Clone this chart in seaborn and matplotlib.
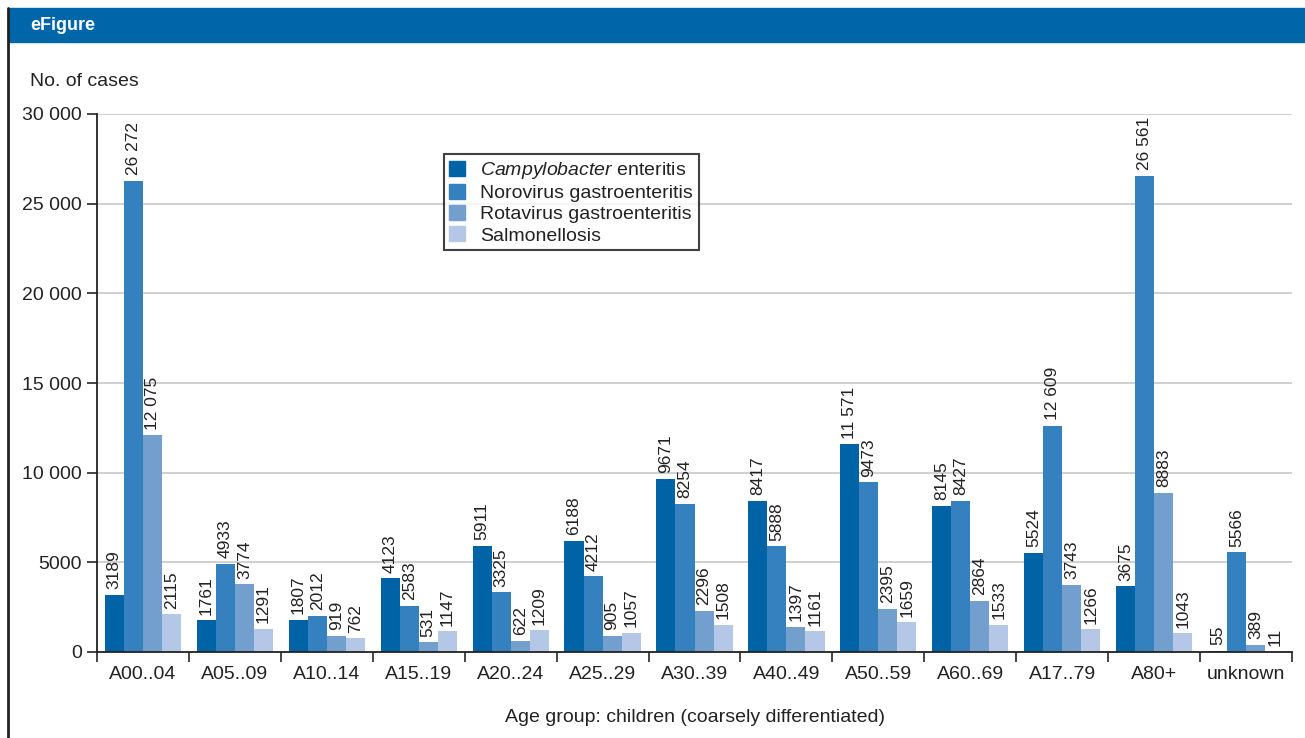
import matplotlib
matplotlib.use("Agg")
import matplotlib.pyplot as plt
import matplotlib.patches as mpatches
from matplotlib.lines import Line2D
import pandas as pd
import seaborn as sns

# Data
age_groups = ["A00..04", "A05..09", "A10..14", "A15..19", "A20..24", "A25..29",
              "A30..39", "A40..49", "A50..59", "A60..69", "A17..79", "A80+", "unknown"]
campylobacter = [3189, 1761, 1807, 4123, 5911, 6188, 9671, 8417, 11571, 8145, 5524, 3675, 55]
norovirus = [26272, 4933, 2012, 2583, 3325, 4212, 8254, 5888, 9473, 8427, 12609, 26561, 5566]
rotavirus = [12075, 3774, 919, 531, 622, 905, 2296, 1397, 2395, 2864, 3743, 8883, 389]
salmonellosis = [2115, 1291, 762, 1147, 1209, 1057, 1508, 1161, 1659, 1533, 1266, 1043, 11]
diseases = ["Campylobacter enteritis", "Norovirus gastroenteritis",
            "Rotavirus gastroenteritis", "Salmonellosis"]
colors = ["#0063a6", "#3580be", "#739fcf", "#b4c7e7"]


def fmt(v):
    """Thousands separated by a space, only from 10 000 on"""
    if v >= 10000:
        return f"{v:,}".replace(",", " ")
    return str(v)


df = pd.DataFrame({
    "age": age_groups * 4,
    "disease": [d for d in diseases for _ in age_groups],
    "cases": campylobacter + norovirus + rotavirus + salmonellosis,
})

sns.set_style("white")
plt.rcParams["font.family"] = ["Liberation Sans", "DejaVu Sans"]
plt.rcParams["mathtext.fontset"] = "custom"
plt.rcParams["mathtext.it"] = "Liberation Sans:italic"
plt.rcParams["mathtext.rm"] = "Liberation Sans"
text_col = "#222222"

fig = plt.figure(figsize=(13.05, 7.38), dpi=100)
ax = fig.add_axes([97 / 1305, 1 - 652 / 738, (1292 - 97) / 1305, (652 - 114) / 738])

sns.barplot(data=df, x="age", y="cases", hue="disease", hue_order=diseases,
            palette=colors, width=0.83, saturation=1, linewidth=0, ax=ax, legend=False)

# Value labels
for cont, vals in zip(ax.containers, [campylobacter, norovirus, rotavirus, salmonellosis]):
    ax.bar_label(cont, labels=[fmt(v) for v in vals], rotation=90, padding=4,
                 fontsize=12.5, color=text_col)

# Axes
ax.set_ylim(0, 30000)
ax.set_xlim(-0.5, len(age_groups) - 0.5)
ax.set_yticks(range(0, 30001, 5000))
ax.set_yticklabels([fmt(v) for v in range(0, 30001, 5000)], fontsize=14, color=text_col)
ax.yaxis.grid(True, color="#c8c8c8", linewidth=1.2)
ax.set_axisbelow(True)
ax.set_xticks(range(len(age_groups)))
ax.set_xticklabels(age_groups, fontsize=14, color=text_col)
ax.tick_params(axis="x", length=0, pad=10)
ax.tick_params(axis="y", length=7, width=1.2, left=True, pad=4)
# Category separators on the x axis
ax.set_xticks([i - 0.5 for i in range(len(age_groups) + 1)], minor=True)
ax.tick_params(axis="x", which="minor", length=7, width=1.2, bottom=True)
for s in ["top", "right"]:
    ax.spines[s].set_visible(False)
for s in ["left", "bottom"]:
    ax.spines[s].set_color(text_col)
    ax.spines[s].set_linewidth(1.3)
ax.set_xlabel("")
ax.set_ylabel("")

# Legend
handles = [mpatches.Patch(color=c) for c in colors]
labels = [r"$\it{Campylobacter}$ enteritis", "Norovirus gastroenteritis",
          "Rotavirus gastroenteritis", "Salmonellosis"]
leg = ax.legend(handles, labels, loc="upper left", bbox_to_anchor=(0.290, 0.925),
                fontsize=14, frameon=True, fancybox=False, handlelength=0.8,
                handleheight=0.8, handletextpad=0.8, labelspacing=0.15,
                borderpad=0.3, borderaxespad=0)
leg.get_frame().set_edgecolor("#111111")
leg.get_frame().set_linewidth(1.5)
for t in leg.get_texts():
    t.set_color(text_col)

# Header and frame
fig.add_artist(mpatches.Rectangle((8 / 1305, 1 - 42 / 738), 1, 34 / 738,
                                  transform=fig.transFigure, color="#0066aa", zorder=0))
fig.text(30 / 1305, 1 - 26 / 738, "eFigure", color="white", fontsize=13,
         fontweight="bold", va="center")
fig.add_artist(Line2D([8 / 1305, 8 / 1305], [0, 1 - 8 / 738], transform=fig.transFigure,
                      color=text_col, linewidth=2))
fig.text(30 / 1305, 1 - 82 / 738, "No. of cases", fontsize=14, va="center", color=text_col)
fig.text(695 / 1305, 1 - 717 / 738, "Age group: children (coarsely differentiated)",
         fontsize=14, ha="center", va="center", color=text_col)

fig.savefig("out.png", dpi=100)
